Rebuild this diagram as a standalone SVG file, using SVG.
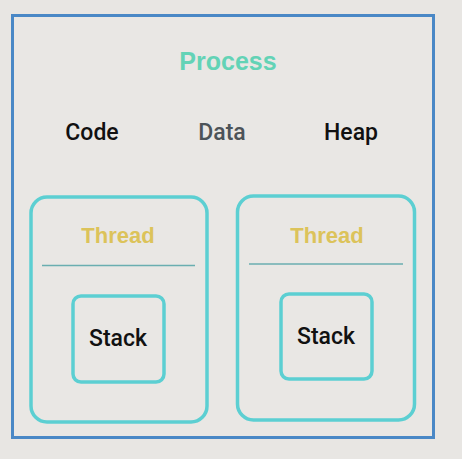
<svg xmlns="http://www.w3.org/2000/svg" width="462" height="459" viewBox="0 0 462 459">
<style>
.box{fill:none;stroke:#5ccfd2;stroke-width:3.5}
.div{stroke:#6aaeb0;stroke-width:1.5}
.lbl{font-family:Roboto,"Liberation Sans",Arial,sans-serif;text-anchor:middle;font-weight:500}
.bold{font-family:"Liberation Sans",Arial,sans-serif;text-anchor:middle;font-weight:bold}
.blk{fill:#111111;font-size:23px}
.thr{fill:#dcc35a;font-size:22px}
</style>
<rect width="462" height="459" fill="#e8e6e3"/>
<g id="process">
<rect x="12.5" y="15.5" width="421" height="422" fill="#e9e7e4" stroke="#4a88c6" stroke-width="3"/>
<text class="bold" x="228" y="70" fill="#63d3b6" font-size="25">Process</text>
</g>
<g id="code"><text class="lbl blk" x="92" y="140">Code</text></g>
<g id="data"><text class="lbl" x="222" y="140" fill="#4c5358" font-size="23">Data</text></g>
<g id="heap"><text class="lbl blk" x="351" y="140">Heap</text></g>
<g id="thread1">
<rect class="box" x="31" y="197" width="176" height="225" rx="16"/>
<text class="bold thr" x="118" y="243">Thread</text>
<line class="div" x1="42" y1="265.5" x2="195" y2="265.5"/>
</g>
<g id="stack1">
<rect class="box" x="73" y="296" width="91" height="86" rx="8"/>
<text class="lbl blk" x="118" y="346">Stack</text>
</g>
<g id="thread2">
<rect class="box" x="237.5" y="196" width="177" height="224" rx="16"/>
<text class="bold thr" x="327" y="243">Thread</text>
<line class="div" x1="249" y1="264" x2="403" y2="264"/>
</g>
<g id="stack2">
<rect class="box" x="281" y="294" width="91" height="85" rx="8"/>
<text class="lbl blk" x="326" y="344">Stack</text>
</g>
<g id="connectors"/>
</svg>
